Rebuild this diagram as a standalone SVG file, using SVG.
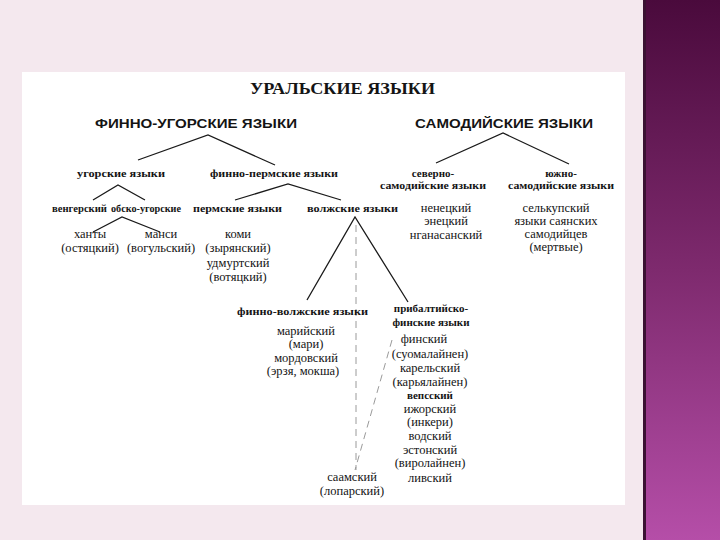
<svg xmlns="http://www.w3.org/2000/svg" width="720" height="540" viewBox="0 0 720 540">
<defs>
<linearGradient id="strip" x1="0" y1="0" x2="0" y2="1">
<stop offset="0" stop-color="#4a0a3c"/>
<stop offset="0.5" stop-color="#7e2a6e"/>
<stop offset="1" stop-color="#b54ea8"/>
</linearGradient>
<style>
.t{font-family:"Liberation Serif","DejaVu Serif",serif;fill:#141414}
.h1{font-size:17px;font-weight:bold}
.h2{font-family:"Liberation Sans","DejaVu Sans",sans-serif;font-size:12.5px;font-weight:bold}
.b{font-size:11px;font-weight:bold}
.r{font-size:12.5px}
.m{text-anchor:middle}
.ln{stroke:#1a1a1a;stroke-width:1.3;fill:none}
.ds{stroke:#9a9a9a;stroke-width:1;stroke-dasharray:7 5;fill:none}
</style>
</defs>
<rect x="0" y="0" width="720" height="540" fill="#f4e8ee"/>
<rect x="22" y="72" width="603" height="433" fill="#ffffff"/>
<rect x="643" y="0" width="77" height="540" fill="url(#strip)"/>
<rect x="643" y="0" width="3" height="540" fill="#3a1232"/>

<g id="connectors">
<polyline class="ln" points="138,160 208,135 275,165"/>
<polyline class="ln" points="436,163 503,133 569,164"/>
<polyline class="ln" points="93,200 118,185 145,200"/>
<polyline class="ln" points="235,200 288,184 341,200"/>
<polyline class="ln" points="93,232 122,217 160,232"/>
<polyline class="ln" points="307,300 355,217 408,302"/>
<line class="ds" x1="356" y1="225" x2="356" y2="470"/>
<line class="ds" x1="392" y1="340" x2="355" y2="470"/>
</g>

<g id="n-ural"><text class="t h1" x="250" y="94" textLength="185" lengthAdjust="spacingAndGlyphs">УРАЛЬСКИЕ ЯЗЫКИ</text></g>
<g id="n-fu"><text class="t h2" x="95" y="128" textLength="202" lengthAdjust="spacingAndGlyphs">ФИННО-УГОРСКИЕ ЯЗЫКИ</text></g>
<g id="n-samod"><text class="t h2" x="415" y="128" textLength="178" lengthAdjust="spacingAndGlyphs">САМОДИЙСКИЕ ЯЗЫКИ</text></g>

<g id="n-ugor"><text class="t b" x="77" y="177" textLength="88" lengthAdjust="spacingAndGlyphs">угорские языки</text></g>
<g id="n-finperm"><text class="t b" x="210" y="177" textLength="128" lengthAdjust="spacingAndGlyphs">финно-пермские языки</text></g>
<g id="n-north">
<text class="t b m" x="433" y="177">северно-</text>
<text class="t b m" x="433" y="189" textLength="106" lengthAdjust="spacingAndGlyphs">самодийские языки</text>
</g>
<g id="n-south">
<text class="t b m" x="561" y="177">южно-</text>
<text class="t b m" x="561" y="189" textLength="106" lengthAdjust="spacingAndGlyphs">самодийские языки</text>
</g>

<g id="n-veng"><text class="t b" x="52" y="212" textLength="55" lengthAdjust="spacingAndGlyphs">венгерский</text></g>
<g id="n-obugor"><text class="t b" x="111" y="212" textLength="70" lengthAdjust="spacingAndGlyphs">обско-угорские</text></g>
<g id="n-perm"><text class="t b" x="193" y="212" textLength="89" lengthAdjust="spacingAndGlyphs">пермские языки</text></g>
<g id="n-volzh"><text class="t b" x="307" y="212" textLength="91" lengthAdjust="spacingAndGlyphs">волжские языки</text></g>

<g id="n-nen">
<text class="t r m" x="446" y="212">ненецкий</text>
<text class="t r m" x="446" y="225">энецкий</text>
<text class="t r m" x="446" y="239">нганасанский</text>
</g>
<g id="n-selk">
<text class="t r m" x="556" y="212">селькупский</text>
<text class="t r m" x="556" y="225">языки саянских</text>
<text class="t r m" x="556" y="238">самодийцев</text>
<text class="t r m" x="556" y="251">(мертвые)</text>
</g>

<g id="n-khanty">
<text class="t r m" x="90" y="238">ханты</text>
<text class="t r m" x="90" y="252">(остяцкий)</text>
</g>
<g id="n-mansi">
<text class="t r m" x="161" y="238">манси</text>
<text class="t r m" x="161" y="252">(вогульский)</text>
</g>
<g id="n-komi">
<text class="t r m" x="238" y="238">коми</text>
<text class="t r m" x="238" y="252">(зырянский)</text>
<text class="t r m" x="238" y="267">удмуртский</text>
<text class="t r m" x="238" y="281">(вотяцкий)</text>
</g>

<g id="n-finvolzh">
<text class="t b" x="237" y="315" textLength="131" lengthAdjust="spacingAndGlyphs">финно-волжские языки</text>
</g>
<g id="n-mari">
<text class="t r m" x="306" y="335">марийский</text>
<text class="t r m" x="306" y="348">(мари)</text>
<text class="t r m" x="306" y="362">мордовский</text>
<text class="t r m" x="303" y="375">(эрзя, мокша)</text>
</g>
<g id="n-pribalt">
<text class="t b m" x="431" y="312">прибалтийско-</text>
<text class="t b m" x="431" y="326">финские языки</text>
<text class="t r m" x="424" y="343">финский</text>
<text class="t r m" x="430" y="358">(суомалайнен)</text>
<text class="t r m" x="430" y="372">карельский</text>
<text class="t r m" x="430" y="386">(карьялайнен)</text>
<text class="t b m" x="430" y="399">вепсский</text>
<text class="t r m" x="430" y="413">ижорский</text>
<text class="t r m" x="430" y="426">(инкери)</text>
<text class="t r m" x="430" y="440">водский</text>
<text class="t r m" x="430" y="454">эстонский</text>
<text class="t r m" x="430" y="467">(виролайнен)</text>
<text class="t r m" x="430" y="482">ливский</text>
</g>
<g id="n-saam">
<text class="t r m" x="352" y="481">саамский</text>
<text class="t r m" x="352" y="495">(лопарский)</text>
</g>
</svg>
